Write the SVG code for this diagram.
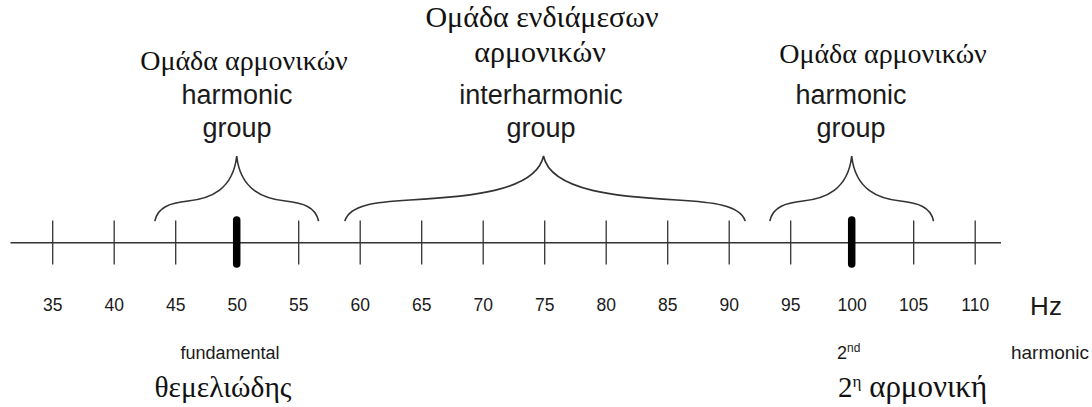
<svg xmlns="http://www.w3.org/2000/svg" width="1092" height="407" viewBox="0 0 1092 407">
<style>
.serif{font-family:"Liberation Serif","Times New Roman",serif;fill:#111;}
.sans{font-family:"Liberation Sans",Arial,sans-serif;fill:#1a1a1a;}
.big{font-size:28px;}
.mid{font-size:27px;}
.num{font-size:17.5px;text-anchor:middle;}
.small{font-size:18px;}
.c{text-anchor:middle;}
.tick{stroke:#333;stroke-width:1.3;}
.thick{stroke:#000;stroke-width:7.5;stroke-linecap:round;}
.brace{fill:none;stroke:#333;stroke-width:1.6;stroke-linecap:round;}
</style>
<defs>
<path id="sbrace" d="M155,220.5 C158,207 170,203 188,201 C210,198.5 233,190 236.7,156 C240.4,190 263.4,198.5 285.4,201 C303.4,203 315.4,207 318.4,220.5"/>
</defs>
<rect width="1092" height="407" fill="#fff"/>
<g id="axis">
<line x1="10.5" y1="242.7" x2="1001" y2="242.7" stroke="#333" stroke-width="1.6"/>
<line class="tick" x1="52.7" y1="220.5" x2="52.7" y2="264.5"/>
<line class="tick" x1="114.2" y1="220.5" x2="114.2" y2="264.5"/>
<line class="tick" x1="175.7" y1="220.5" x2="175.7" y2="264.5"/>
<line class="thick" x1="236.7" y1="220" x2="236.7" y2="264"/>
<line class="tick" x1="298.7" y1="220.5" x2="298.7" y2="264.5"/>
<line class="tick" x1="360.2" y1="220.5" x2="360.2" y2="264.5"/>
<line class="tick" x1="421.7" y1="220.5" x2="421.7" y2="264.5"/>
<line class="tick" x1="483.2" y1="220.5" x2="483.2" y2="264.5"/>
<line class="tick" x1="544.7" y1="220.5" x2="544.7" y2="264.5"/>
<line class="tick" x1="606.2" y1="220.5" x2="606.2" y2="264.5"/>
<line class="tick" x1="667.7" y1="220.5" x2="667.7" y2="264.5"/>
<line class="tick" x1="729.2" y1="220.5" x2="729.2" y2="264.5"/>
<line class="tick" x1="790.7" y1="220.5" x2="790.7" y2="264.5"/>
<line class="thick" x1="851.7" y1="220" x2="851.7" y2="264"/>
<line class="tick" x1="913.7" y1="220.5" x2="913.7" y2="264.5"/>
<line class="tick" x1="975.2" y1="220.5" x2="975.2" y2="264.5"/>
</g>
<g id="labels-axis" class="sans num">
<text x="52.7" y="311">35</text>
<text x="114.2" y="311">40</text>
<text x="175.7" y="311">45</text>
<text x="237.2" y="311">50</text>
<text x="298.7" y="311">55</text>
<text x="360.2" y="311">60</text>
<text x="421.7" y="311">65</text>
<text x="483.2" y="311">70</text>
<text x="544.7" y="311">75</text>
<text x="606.2" y="311">80</text>
<text x="667.7" y="311">85</text>
<text x="729.2" y="311">90</text>
<text x="790.7" y="311">95</text>
<text x="852.2" y="311">100</text>
<text x="913.7" y="311">105</text>
<text x="975.2" y="311">110</text>
</g>
<text id="hz" class="sans c" x="1046" y="315" font-size="26">Hz</text>
<g id="group-left">
<use href="#sbrace" class="brace"/>
<text class="serif big c" x="244" y="70">Ομάδα αρμονικών</text>
<text class="sans mid c" x="237" y="104">harmonic</text>
<text class="sans mid c" x="237" y="137">group</text>
</g>
<g id="group-inter">
<path class="brace" d="M345,220.5 C350,205 375,202 410,200 C465,197 536,192 543.5,156 C551,192 622,197 677,200 C712,202 740,205 745,220.5"/>
<text class="serif c" font-size="30" x="542" y="27">Ομάδα ενδιάμεσων</text>
<text class="serif c" font-size="30" x="540" y="62">αρμονικών</text>
<text class="sans mid c" x="541" y="104">interharmonic</text>
<text class="sans mid c" x="541" y="137">group</text>
</g>
<g id="group-right">
<use href="#sbrace" class="brace" transform="translate(615,0)"/>
<text class="serif big c" x="883" y="63">Ομάδα αρμονικών</text>
<text class="sans mid c" x="851" y="104">harmonic</text>
<text class="sans mid c" x="851" y="137">group</text>
</g>
<g id="fundamental">
<text class="sans small c" x="230" y="359">fundamental</text>
<text class="serif c" font-size="29.5" x="223" y="397">θεμελιώδης</text>
</g>
<g id="second">
<text class="sans small" x="837" y="359">2<tspan font-size="12" dy="-7">nd</tspan></text>
<text class="sans c" font-size="19" x="1050" y="359">harmonic</text>
<text class="serif" font-size="29" x="838" y="397">2<tspan font-size="17" dy="-10">η</tspan><tspan dy="10" font-size="31"> αρμονική</tspan></text>
</g>
</svg>
